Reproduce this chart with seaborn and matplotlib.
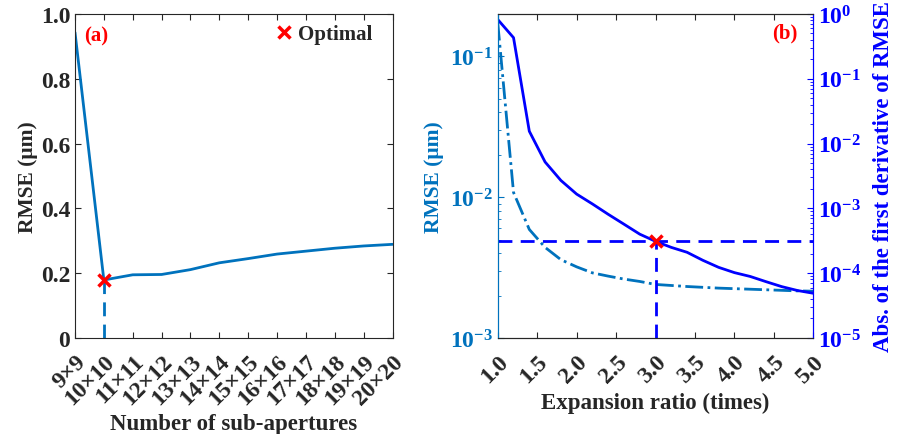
import matplotlib
matplotlib.use("Agg")
import matplotlib.pyplot as plt
import seaborn as sns
import pandas as pd

# (a) RMSE vs number of sub-apertures
apertures = ["9×9", "10×10", "11×11", "12×12", "13×13", "14×14",
             "15×15", "16×16", "17×17", "18×18", "19×19", "20×20"]
rmse_a = [0.943, 0.179, 0.195, 0.196, 0.211, 0.232,
          0.245, 0.259, 0.268, 0.277, 0.284, 0.289]
opt_a = 1  # index of 10x10

# (b) RMSE and abs. first derivative vs expansion ratio
ratio = [1.0, 1.2, 1.4, 1.6, 1.8, 2.0, 2.2, 2.4, 2.6, 2.8, 3.0,
         3.2, 3.4, 3.6, 3.8, 4.0, 4.2, 4.4, 4.6, 4.8, 5.0]
rmse_b = [0.173, 0.0108, 0.0059, 0.0044, 0.0036, 0.0032, 0.0029,
          0.00275, 0.00262, 0.00252, 0.0024, 0.00236, 0.00232, 0.00229,
          0.00226, 0.00224, 0.00222, 0.0022, 0.00218, 0.00216, 0.00215]
deriv_b = [0.82, 0.43, 0.0155, 0.0052, 0.0027, 0.00166, 0.00117,
           0.00081, 0.00057, 0.00040, 0.00031, 0.00025, 0.00021, 0.000158,
           0.000123, 0.000102, 0.000089, 0.000074, 0.000062, 0.000054, 0.000049]
opt_ratio = 3.0
opt_deriv = 0.00031

MBLUE = "#0072BD"
BLUE = "#0000FF"
GRAY = "#262626"
DASH = (0, (5, 3))

sns.set_style("ticks")
plt.rcParams["font.family"] = ["Liberation Serif", "DejaVu Serif"]
plt.rcParams["font.weight"] = "bold"
plt.rcParams["axes.labelweight"] = "bold"
plt.rcParams["mathtext.default"] = "bf"

fig = plt.figure(figsize=(8.97, 4.35), dpi=100)
ax_a = fig.add_axes([0.0836, 0.2207, 0.354, 0.745])
ax_b = fig.add_axes([0.5549, 0.2207, 0.3518, 0.745])

TICK = 17

# ---- panel (a)
df_a = pd.DataFrame({"pos": range(len(apertures)), "rmse": rmse_a})
sns.lineplot(data=df_a, x="pos", y="rmse", ax=ax_a, color=MBLUE, lw=2)
ax_a.plot([opt_a, opt_a], [0, rmse_a[opt_a]], ls=DASH, color=MBLUE, lw=2)
ax_a.plot(opt_a, rmse_a[opt_a], "x", color="red", ms=8, mew=2.5, label="Optimal")
ax_a.set_xlim(0, len(apertures) - 1)
ax_a.set_ylim(0, 1)
ax_a.set_xticks(range(len(apertures)))
ax_a.set_xticklabels(apertures, rotation=45, ha="right", rotation_mode="anchor")
ax_a.set_yticks([0, 0.2, 0.4, 0.6, 0.8, 1.0])
ax_a.set_yticklabels(["0", "0.2", "0.4", "0.6", "0.8", "1.0"])
ax_a.tick_params(direction="in", top=True, right=True, labelsize=TICK,
                 colors=GRAY, length=4)
ax_a.tick_params(axis="x", pad=9)
ax_a.set_xlabel("Number of sub-apertures", fontsize=16.5, color=GRAY, labelpad=3)
ax_a.set_ylabel("RMSE (μm)", fontsize=15.5, color=GRAY, labelpad=2)
ax_a.legend(loc="upper right", frameon=False, fontsize=15, handletextpad=0.2,
            borderaxespad=0.1, handlelength=1.0, bbox_to_anchor=(0.97, 1.0))
ax_a.text(0.03, 0.965, "(a)", transform=ax_a.transAxes, color="red",
          fontsize=15, fontweight="bold", va="top", ha="left")
for s in ax_a.spines.values():
    s.set_color(GRAY)

# ---- panel (b)
df_b = pd.DataFrame({"ratio": ratio, "rmse": rmse_b, "deriv": deriv_b})
sns.lineplot(data=df_b, x="ratio", y="rmse", ax=ax_b, color=MBLUE, lw=2,
             linestyle="-.")
ax_b.set_yscale("log")
ax_b.set_ylim(1e-3, 0.2)
ax_b.set_xlim(1, 5)
ax_b.set_xticks([1.0, 1.5, 2.0, 2.5, 3.0, 3.5, 4.0, 4.5, 5.0])
ax_b.set_xticklabels(["1.0", "1.5", "2.0", "2.5", "3.0", "3.5", "4.0", "4.5", "5.0"],
                     rotation=45, ha="right", rotation_mode="anchor")
ax_b.set_xlabel("Expansion ratio (times)", fontsize=16.5, color=GRAY, labelpad=4)
ax_b.set_ylabel("RMSE (μm)", fontsize=15.5, color=MBLUE)
ax_b.tick_params(axis="x", direction="in", top=True, labelsize=TICK,
                 colors=GRAY, length=4, pad=9)
ax_b.tick_params(axis="y", which="both", direction="in", labelsize=TICK,
                 colors=MBLUE)
ax_b.tick_params(axis="y", which="major", length=4)
ax_b.tick_params(axis="y", which="minor", length=2)

ax_r = ax_b.twinx()
sns.lineplot(data=df_b, x="ratio", y="deriv", ax=ax_r, color=BLUE, lw=2)
ax_r.set_yscale("log")
ax_r.set_ylim(1e-5, 1)
ax_r.axhline(opt_deriv, ls=DASH, color=BLUE, lw=2)
ax_r.plot([opt_ratio, opt_ratio], [1e-5, opt_deriv], ls=DASH, color=BLUE, lw=2)
ax_r.plot(opt_ratio, opt_deriv, "x", color="red", ms=8, mew=2.5)
ax_r.set_ylabel("Abs. of the first derivative of RMSE", fontsize=16.5,
                color=BLUE, labelpad=8)
ax_r.tick_params(axis="y", which="both", direction="in", labelsize=TICK,
                 colors=BLUE)
ax_r.tick_params(axis="y", which="major", length=4)
ax_r.tick_params(axis="y", which="minor", length=2)
ax_r.set_xlim(1, 5)
ax_r.text(0.95, 0.975, "(b)", transform=ax_r.transAxes, color="red",
          fontsize=15, fontweight="bold", va="top", ha="right")

for a in (ax_b, ax_r):
    a.spines["top"].set_color(GRAY)
    a.spines["bottom"].set_color(GRAY)
    a.spines["left"].set_color(MBLUE)
    a.spines["right"].set_color(BLUE)

fig.savefig("out.png", dpi=100)
